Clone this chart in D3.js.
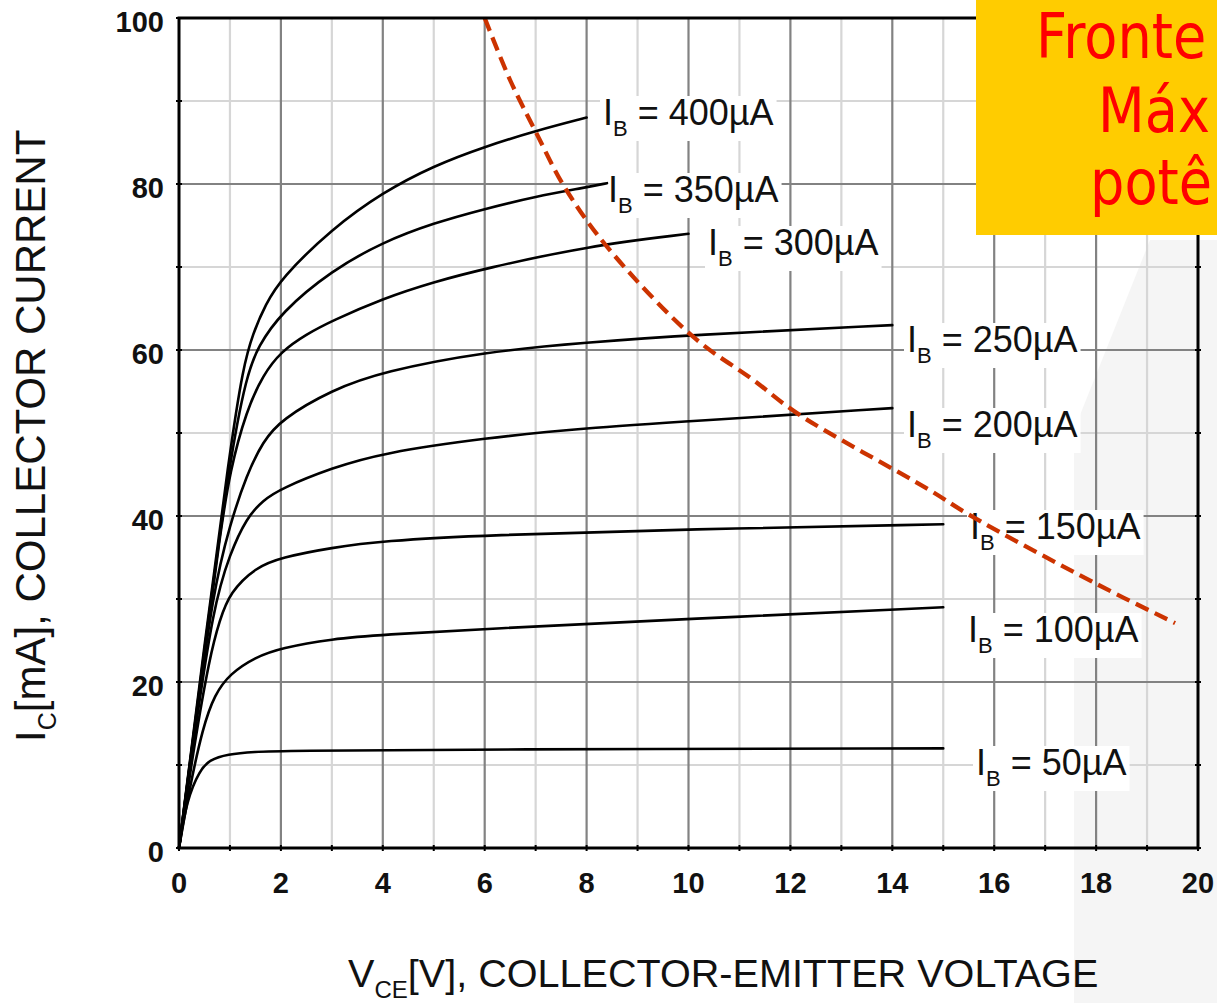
<!DOCTYPE html>
<html>
<head>
<meta charset="utf-8">
<script src="https://cdn.jsdelivr.net/npm/d3@7"></script>
<style>
  html, body { margin: 0; padding: 0; background: #ffffff; }
  svg { display: block; }
</style>
</head>
<body>
<svg id="chart" width="1217" height="1003"></svg>
<script>
// ---------------- DATA ----------------
const vceTicks = [0, 2, 4, 6, 8, 10, 12, 14, 16, 18, 20];
const icTicks = [0, 20, 40, 60, 80, 100];
const ibNames = ["400µA", "350µA", "300µA", "250µA", "200µA", "150µA", "100µA", "50µA"];

// [VCE (V), IC (mA)]
const ib400 = [[0,0],[0.5,24.5],[1.0,48],[1.26,58],[1.45,62],[1.7,65.5],[2,68.6],[3,74.6],[4,79],[5,82.2],[6,84.5],[7,86.4],[8,88],[8,88]];
const ib350 = [[0,0],[0.5,24],[1.0,47],[1.33,57],[1.55,60.4],[2,64.5],[3,69.6],[4,73],[5,75.3],[6,77],[7,78.5],[8,79.6],[8.4,80.1],[8.4,80.1]];
const ib300 = [[0,0],[0.5,23.5],[0.8,37.5],[1.0,45.5],[1.33,52.8],[1.65,57],[2,59.8],[2.5,61.9],[3,63.5],[4,66.2],[5,68.2],[6,69.8],[8,72.5],[10,74],[10,74]];
const ib250 = [[0,0],[0.3,14],[0.67,31],[1.0,39],[1.33,45],[1.65,49],[2,51.6],[3,55.2],[4,57.4],[6,59.8],[8,60.9],[10,61.8],[14,63],[14,63]];
const ib200 = [[0,0],[0.3,13.5],[0.67,29],[1.0,35.5],[1.33,39.8],[1.65,41.9],[2,43.3],[3,45.8],[4,47.6],[6,49.4],[8,50.6],[10,51.4],[14,53],[14,53]];
const ib150 = [[0,0],[0.3,12.5],[0.6,23],[0.8,27.5],[1.0,30.8],[1.5,33.8],[2,35],[3,36.2],[4,37],[6,37.7],[10,38.4],[15,39],[15,39]];
const ib100 = [[0,0],[0.2,7],[0.47,14.6],[0.7,18.5],[1.0,21],[1.5,23],[2,24.1],[3,25.2],[4,25.7],[6,26.4],[10,27.6],[15,29],[15,29]];
const ib50  = [[0,0],[0.15,5.8],[0.41,9.4],[0.6,10.6],[0.94,11.3],[1.5,11.6],[2,11.7],[6,11.9],[15,12.0],[15,12.0]];

// maximum power boundary (red dashed)
const pMaxV = [6.0, 6.5, 7.0, 7.58, 8.42, 10.09, 11.27, 12.15, 14.74, 15.52, 17.98, 19.55];
const pMaxI = [100, 92.5, 86.3, 79.5, 72.3, 61.6, 56.4, 52.3, 43.1, 40.1, 31.9, 27.1];

// visible part of the annotation box text
const boxLines = ["Fronte", "Máx", "potê"];

// ---------------- LAYOUT ----------------
const svg = d3.select("#chart");
const x = d3.scaleLinear().domain([0, 20]).range([179, 1198]);
const y = d3.scaleLinear().domain([0, 100]).range([848, 18]);

const curves = [ib400, ib350, ib300, ib250, ib200, ib150, ib100, ib50];
// label anchor (px) for each curve, same order as ibNames
const labelAt = [[603,125],[608,202],[708,255],[907,352],[907,437],[970,539],[968,642],[976,775]];

// background watermark (faint)
svg.append("path")
  .attr("d", "M1150,240 L1074,430 L1074,1003 L1217,1003 L1217,240 Z")
  .attr("fill", "#f5f5f5");

// grid
const g = svg.append("g");
const minorV = d3.range(1, 20, 2);
const minorI = d3.range(10, 100, 20);
g.selectAll(".mv").data(minorV).join("line")
  .attr("x1", d => x(d)).attr("x2", d => x(d))
  .attr("y1", y(0)).attr("y2", y(100))
  .attr("stroke", "#d6d6d6").attr("stroke-width", 2.2);
g.selectAll(".mi").data(minorI).join("line")
  .attr("y1", d => y(d)).attr("y2", d => y(d))
  .attr("x1", x(0)).attr("x2", x(20))
  .attr("stroke", "#d6d6d6").attr("stroke-width", 2.2);
g.selectAll(".Mv").data(vceTicks.slice(1, -1)).join("line")
  .attr("x1", d => x(d)).attr("x2", d => x(d))
  .attr("y1", y(0)).attr("y2", y(100))
  .attr("stroke", "#828282").attr("stroke-width", 2.2);
g.selectAll(".Mi").data(icTicks.slice(1, -1)).join("line")
  .attr("y1", d => y(d)).attr("y2", d => y(d))
  .attr("x1", x(0)).attr("x2", x(20))
  .attr("stroke", "#828282").attr("stroke-width", 2.2);

// labels (white boxes first)
const lg = svg.append("g").attr("font-family", "'Liberation Sans', Arial, sans-serif").attr("fill", "#111");
ibNames.forEach((name, i) => {
  const [lx, ly] = labelAt[i];
  const grp = lg.append("g");
  const rect = grp.append("rect").attr("fill", "#ffffff");
  const t = grp.append("text").attr("x", lx).attr("y", ly).attr("font-size", 36);
  t.append("tspan").text("I");
  t.append("tspan").attr("dy", 11).attr("font-size", 22).text("B");
  t.append("tspan").attr("dy", -11).text(" = " + name);
  const bb = t.node().getBBox();
  rect.attr("x", bb.x - 3).attr("y", bb.y + 4).attr("width", bb.width + 6).attr("height", bb.height - 4);
});

// curves
const line = d3.line().x(d => x(d[0])).y(d => y(d[1])).curve(d3.curveBasis);
svg.append("g").selectAll("path").data(curves).join("path")
  .attr("d", line)
  .attr("fill", "none").attr("stroke", "#000").attr("stroke-width", 2.6)
  .attr("stroke-linecap", "round").attr("stroke-linejoin", "round");

// max power boundary
const pmax = pMaxV.map((v, i) => [v, pMaxI[i]]);
svg.append("path")
  .attr("d", d3.line().x(d => x(d[0])).y(d => y(d[1])).curve(d3.curveCatmullRom.alpha(0.5))(pmax))
  .attr("fill", "none").attr("stroke", "#cc3300").attr("stroke-width", 4.3)
  .attr("stroke-dasharray", "14,7");

// frame
svg.append("rect")
  .attr("x", x(0)).attr("y", y(100)).attr("width", x(20) - x(0)).attr("height", y(0) - y(100))
  .attr("fill", "none").attr("stroke", "#000").attr("stroke-width", 3);

// small tick marks on the frame
const tk = svg.append("g").attr("stroke", "#000").attr("stroke-width", 2);
tk.selectAll(".tl").data(d3.range(0, 101, 10)).join("line")
  .attr("x1", x(0) - 3).attr("x2", x(0) + 3).attr("y1", d => y(d)).attr("y2", d => y(d));
tk.selectAll(".tr").data(d3.range(0, 101, 10)).join("line")
  .attr("x1", x(20) - 3).attr("x2", x(20) + 3).attr("y1", d => y(d)).attr("y2", d => y(d));
tk.selectAll(".tb").data(d3.range(0, 21, 1)).join("line")
  .attr("x1", d => x(d)).attr("x2", d => x(d)).attr("y1", y(0) - 3).attr("y2", y(0) + 3);

// tick labels
const tf = svg.append("g").attr("font-family", "'Liberation Sans', Arial, sans-serif")
  .attr("font-weight", "bold").attr("font-size", 29).attr("fill", "#111");
tf.selectAll(".yl").data(icTicks).join("text")
  .attr("x", x(0) - 15).attr("y", d => y(d) + 14).attr("text-anchor", "end").text(d => d);
tf.selectAll(".xl").data(vceTicks).join("text")
  .attr("x", d => x(d)).attr("y", 893).attr("text-anchor", "middle").text(d => d);

// axis titles
const at = svg.append("g").attr("font-family", "'Liberation Sans', Arial, sans-serif").attr("fill", "#111");
const xt = at.append("text").attr("x", 348).attr("y", 987).attr("font-size", 39.6);
xt.append("tspan").text("V");
xt.append("tspan").attr("dy", 11).attr("font-size", 24).text("CE");
xt.append("tspan").attr("dy", -11).text("[V], COLLECTOR-EMITTER VOLTAGE");

const yt = at.append("text").attr("transform", "translate(45,742) rotate(-90)").attr("font-size", 42);
yt.append("tspan").text("I");
yt.append("tspan").attr("dy", 11).attr("font-size", 25).text("C");
yt.append("tspan").attr("dy", -11).text("[mA], COLLECTOR CURRENT");

// yellow annotation box
const bx = svg.append("g");
bx.append("rect").attr("x", 976).attr("y", 0).attr("width", 241).attr("height", 235).attr("fill", "#ffcc00");
const bt = bx.append("g")
  .attr("font-family", "'DejaVu Sans', Verdana, sans-serif").attr("font-size", 63).attr("fill", "#ff0000");
const boxPos = [[1036, 58], [1098, 132], [1090, 204]];
boxLines.forEach((s, i) => {
  bt.append("text").attr("transform", `translate(${boxPos[i][0]},${boxPos[i][1]}) scale(0.86,1)`).text(s);
});
</script>
</body>
</html>
